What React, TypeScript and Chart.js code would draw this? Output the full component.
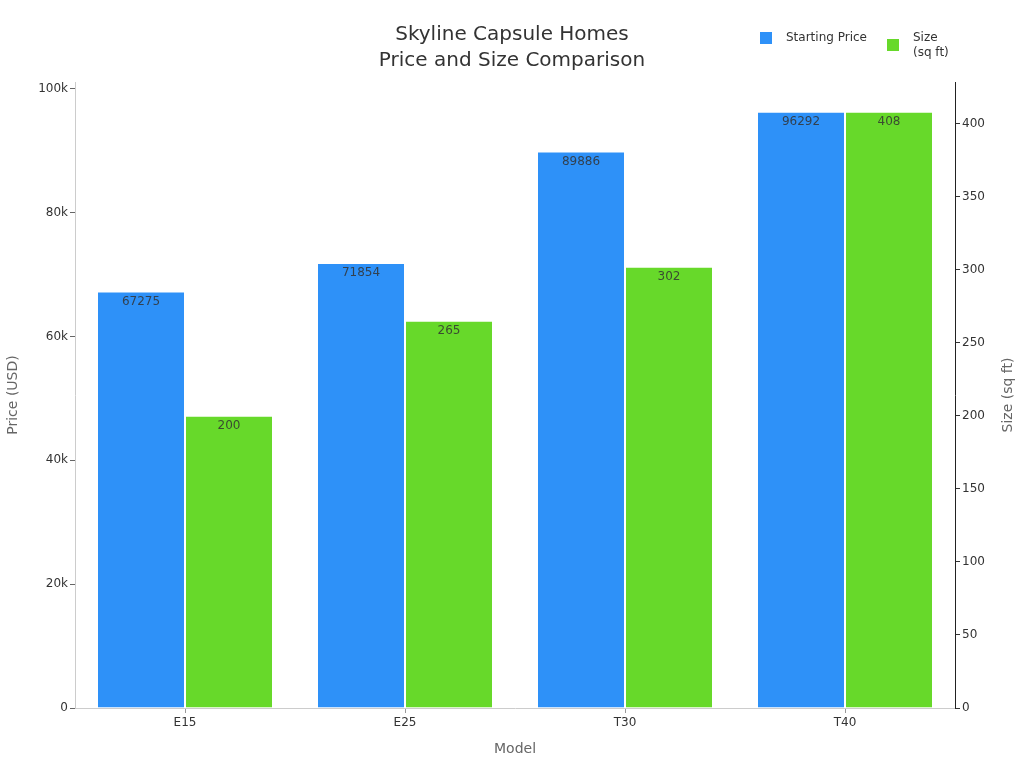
import React, { useEffect, useRef } from 'react';
import { Chart, registerables, Plugin } from 'chart.js';

Chart.register(...registerables);

const models = ['E15', 'E25', 'T30', 'T40'];
const startingPrice = [67275, 71854, 89886, 96292];
const sizeSqFt = [200, 265, 302, 408];
const priceTicks = [0, 20000, 40000, 60000, 80000, 100000];
const sizeTicks = [0, 50, 100, 150, 200, 250, 300, 350, 400];
const legendLabels = [['Starting Price'], ['Size', '(sq ft)']];

const BLUE = '#2e91f8';
const GREEN = '#67d92a';
const FONT = "'DejaVu Sans', sans-serif";

// value labels drawn just inside the top of each bar
const barLabels: Plugin<'bar'> = {
  id: 'barLabels',
  afterDatasetsDraw(chart) {
    const { ctx } = chart;
    ctx.save();
    ctx.font = `12px ${FONT}`;
    ctx.fillStyle = 'rgba(50, 50, 50, 0.85)';
    ctx.textAlign = 'center';
    ctx.textBaseline = 'middle';
    chart.data.datasets.forEach((ds, i) => {
      chart.getDatasetMeta(i).data.forEach((bar: any, j) => {
        ctx.fillText(String(ds.data[j]), bar.x, bar.y + 10);
      });
    });
    ctx.restore();
  },
};

// legend at top right (two-line size label) and the right axis title, read bottom-up
const extras: Plugin<'bar'> = {
  id: 'extras',
  afterDraw(chart) {
    const { ctx, chartArea } = chart;
    const colors = [BLUE, GREEN];
    const xs = [760, 887];
    const ys = [32, 39];
    ctx.save();
    ctx.font = `12px ${FONT}`;
    ctx.textBaseline = 'middle';
    ctx.textAlign = 'left';
    legendLabels.forEach((lines, i) => {
      ctx.fillStyle = colors[i];
      ctx.fillRect(xs[i], ys[i], 12, 12);
      ctx.fillStyle = '#333';
      lines.forEach((line, k) => {
        ctx.fillText(line, xs[i] + 26, 38 + k * 15);
      });
    });

    ctx.translate(1008, (chartArea.top + chartArea.bottom) / 2);
    ctx.rotate(-Math.PI / 2);
    ctx.font = `14px ${FONT}`;
    ctx.fillStyle = '#666';
    ctx.textAlign = 'center';
    ctx.fillText('Size (sq ft)', 0, 0);
    ctx.restore();
  },
};

const App: React.FC = () => {
  const canvasRef = useRef<HTMLCanvasElement | null>(null);

  useEffect(() => {
    document.body.style.margin = '0';
    if (!canvasRef.current) return;

    const chart = new Chart(canvasRef.current, {
      type: 'bar',
      data: {
        labels: models,
        datasets: [
          {
            label: 'Starting Price',
            data: startingPrice,
            backgroundColor: BLUE,
            borderColor: 'rgba(255, 255, 255, 0.5)',
            borderWidth: 1,
            yAxisID: 'y',
            categoryPercentage: 0.8,
            barPercentage: 1.0,
          },
          {
            label: 'Size (sq ft)',
            data: sizeSqFt,
            backgroundColor: GREEN,
            borderColor: 'rgba(255, 255, 255, 0.5)',
            borderWidth: 1,
            yAxisID: 'y1',
            categoryPercentage: 0.8,
            barPercentage: 1.0,
          },
        ],
      },
      options: {
        animation: false,
        responsive: true,
        maintainAspectRatio: false,
        layout: { padding: 0 },
        plugins: {
          legend: { display: false },
          tooltip: { enabled: false },
          title: {
            display: true,
            text: ['Skyline Capsule Homes', 'Price and Size Comparison'],
            color: '#333',
            font: { family: FONT, size: 20, weight: 'normal', lineHeight: 1.3 },
            padding: { top: 22, bottom: 8 },
          },
        },
        scales: {
          x: {
            afterFit: (axis) => {
              axis.height = 60;
            },
            grid: {
              display: true,
              offset: false,
              drawOnChartArea: false,
              tickLength: 5,
              color: '#999',
            },
            border: { color: '#ccc' },
            ticks: { color: '#333', font: { family: FONT, size: 12 } },
            title: {
              display: true,
              text: 'Model',
              color: '#666',
              font: { family: FONT, size: 14 },
              padding: { bottom: 10 },
            },
          },
          y: {
            position: 'left',
            min: 0,
            max: Math.max(...startingPrice) * 1.05,
            afterBuildTicks: (axis) => {
              axis.ticks = priceTicks.map((v) => ({ value: v }));
            },
            afterFit: (axis) => {
              axis.width = 75;
            },
            grid: { drawOnChartArea: false, tickLength: 5, color: '#666' },
            border: { color: '#ccc' },
            ticks: {
              color: '#333',
              font: { family: FONT, size: 12 },
              padding: 2,
              callback: (v) => (Number(v) === 0 ? '0' : `${Number(v) / 1000}k`),
            },
            title: {
              display: true,
              text: 'Price (USD)',
              color: '#666',
              font: { family: FONT, size: 14 },
              padding: { top: 5 },
            },
          },
          y1: {
            position: 'right',
            min: 0,
            max: Math.max(...sizeSqFt) * 1.05,
            afterBuildTicks: (axis) => {
              axis.ticks = sizeTicks.map((v) => ({ value: v }));
            },
            afterFit: (axis) => {
              axis.width = 69;
            },
            grid: { drawOnChartArea: false, tickLength: 5, color: '#333' },
            border: { color: '#222' },
            ticks: { color: '#333', font: { family: FONT, size: 12 }, padding: 2 },
          },
        },
      },
      plugins: [barLabels, extras],
    });

    return () => {
      chart.destroy();
    };
  }, []);

  return (
    <div style={{ width: 1024, height: 768, position: 'relative', background: '#fff' }}>
      <canvas ref={canvasRef}></canvas>
    </div>
  );
};

export default App;
